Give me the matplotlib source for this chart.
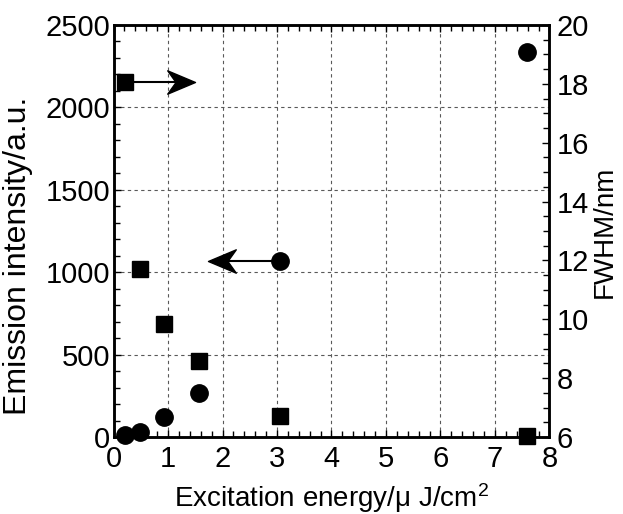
import matplotlib
matplotlib.use("Agg")
import matplotlib.pyplot as plt
from matplotlib.ticker import MultipleLocator
from matplotlib.path import Path

plt.rcParams['font.family'] = ['Liberation Sans', 'DejaVu Sans']
plt.rcParams['mathtext.fontset'] = 'custom'
plt.rcParams['mathtext.rm'] = 'Liberation Sans'
plt.rcParams['mathtext.it'] = 'Liberation Sans'

# Data
energy = [0.21, 0.49, 0.93, 1.57, 3.06, 7.58]
intensity = [12, 32, 123, 265, 1068, 2338]
fwhm = [18.07, 11.70, 9.84, 8.59, 6.71, 6.04]

xlabel = "Excitation energy/\u03bc J/cm$^2$"
ylabel_left = "Emission intensity/a.u."
ylabel_right = "FWHM/nm"

# Arrow annotations (tip x positions)
fwhm_arrow_tip = 1.49
int_arrow_tip = 1.73

fig = plt.figure(figsize=(6.23, 5.14), dpi=100)
ax = fig.add_axes([0.1822, 0.1498, 0.6998, 0.8016])
ax2 = ax.twinx()

ax.set_xlim(0, 8)
ax.set_ylim(0, 2500)
ax2.set_ylim(6, 20)

ax.xaxis.set_major_locator(MultipleLocator(1))
ax.xaxis.set_minor_locator(MultipleLocator(0.2))
ax.yaxis.set_major_locator(MultipleLocator(500))
ax.yaxis.set_minor_locator(MultipleLocator(100))
ax2.yaxis.set_major_locator(MultipleLocator(2))
ax2.yaxis.set_minor_locator(MultipleLocator(0.5))

ax.grid(True, which='major', linestyle=(0, (3, 3)), linewidth=0.8, color='0.35')

for a in (ax, ax2):
    for s in a.spines.values():
        s.set_linewidth(1.8)
ax.tick_params(which='both', direction='in', top=True, right=False, labelsize=21, width=1.0)
ax.tick_params(axis='x', pad=5.5)
ax.tick_params(axis='y', pad=2.5)
ax.tick_params(which='major', length=5)
ax.tick_params(which='minor', length=4)
ax2.tick_params(which='both', direction='in', labelsize=21, width=1.0, pad=5)
ax2.tick_params(which='major', length=5)
ax2.tick_params(which='minor', length=4)

ax.plot(energy, intensity, linestyle='none', marker='o', markersize=12.5, color='black', clip_on=False, zorder=5)
ax2.plot(energy, fwhm, linestyle='none', marker='s', markersize=11.5, color='black', clip_on=False, zorder=5)

# Notched (stealth) arrow heads
def head(direction):
    d = 1 if direction > 0 else -1
    verts = [(0, 0), (-d * 1.0, 0.42), (-d * 0.7, 0), (-d * 1.0, -0.42), (0, 0)]
    codes = [Path.MOVETO, Path.LINETO, Path.LINETO, Path.LINETO, Path.CLOSEPOLY]
    return Path(verts, codes)

ax2.plot([energy[0], fwhm_arrow_tip - 0.25], [fwhm[0], fwhm[0]], color='black', lw=1.5, zorder=4)
ax2.plot([fwhm_arrow_tip], [fwhm[0]], marker=head(1), markersize=40, color='black', linestyle='none', zorder=4)
ax.plot([energy[4], int_arrow_tip + 0.25], [intensity[4], intensity[4]], color='black', lw=1.5, zorder=4)
ax.plot([int_arrow_tip], [intensity[4]], marker=head(-1), markersize=40, color='black', linestyle='none', zorder=4)

ax.set_xlabel(xlabel, fontsize=20)
ax.xaxis.set_label_coords(0.5, -0.108)
ax.set_ylabel(ylabel_left, fontsize=23)
ax.yaxis.set_label_coords(-0.185, 0.44)
ax2.set_ylabel(ylabel_right, fontsize=20)
ax2.yaxis.set_label_coords(1.097, 0.497)

fig.savefig("out.png", dpi=100)
